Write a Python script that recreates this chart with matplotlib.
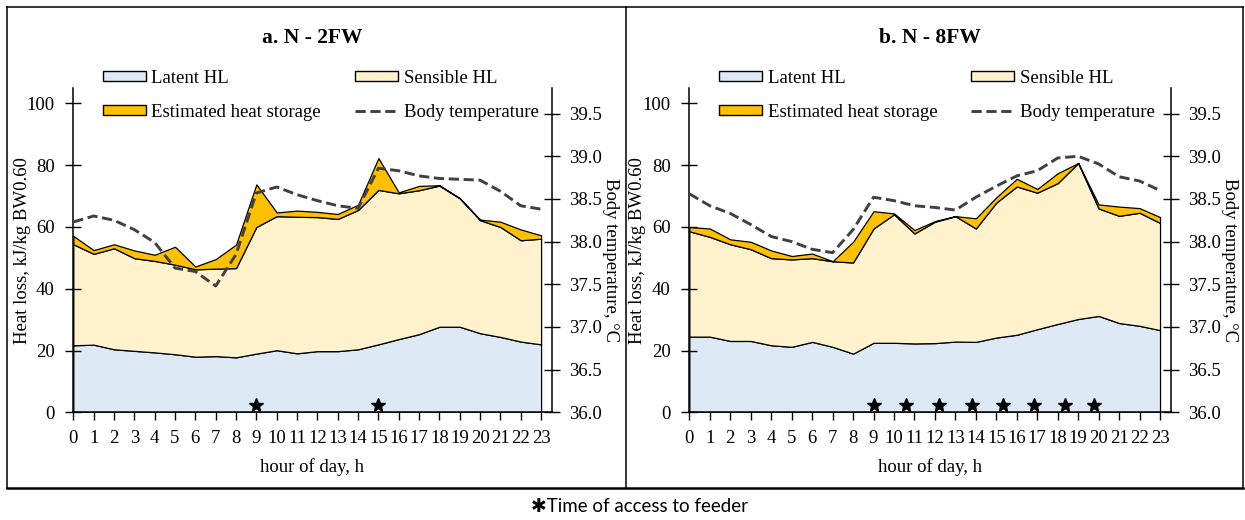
import matplotlib
matplotlib.use("Agg")
import matplotlib.pyplot as plt
import numpy as np
from matplotlib.patches import Patch
from matplotlib.lines import Line2D

plt.rcParams['font.family'] = ['Liberation Serif', 'DejaVu Serif']
plt.rcParams['font.size'] = 13.5

hours = list(range(24))
hour_labels = [str(h) for h in hours]

# panel a: N - 2FW  (kJ/kg BW0.60 per hour, body temperature in degC)
latent_a = [21.7, 21.9, 20.4, 19.9, 19.4, 18.8, 18.0, 18.2, 17.8, 19.0, 20.1, 19.1,
            19.8, 19.8, 20.4, 22.0, 23.7, 25.3, 27.7, 27.7, 25.6, 24.4, 22.9, 22.0]
sensible_a = [32.7, 29.4, 32.7, 30.0, 29.6, 29.0, 28.3, 28.3, 28.9, 41.0, 43.4, 44.2,
              43.4, 42.8, 45.1, 50.0, 47.2, 46.6, 45.7, 41.6, 36.6, 35.6, 32.8, 34.2]
storage_a = [2.7, 1.2, 1.3, 2.5, 2.0, 5.8, 0.9, 3.1, 7.6, 13.8, 1.2, 2.0,
             1.7, 1.6, 1.7, 10.3, 0.3, 1.4, 0.1, 0.0, 0.2, 1.7, 3.5, 1.1]
body_temp_a = [38.23, 38.30, 38.25, 38.14, 37.99, 37.69, 37.65, 37.48, 37.85, 38.57, 38.64, 38.55,
               38.48, 38.42, 38.39, 38.86, 38.83, 38.77, 38.74, 38.73, 38.72, 38.59, 38.42, 38.38]
feeder_a = [9, 15]

# panel b: N - 8FW
latent_b = [24.5, 24.5, 23.1, 23.1, 21.7, 21.2, 22.8, 21.2, 19.0, 22.5, 22.5, 22.3,
            22.4, 22.9, 22.8, 24.2, 25.1, 26.9, 28.6, 30.2, 31.2, 28.9, 28.0, 26.6]
sensible_b = [34.1, 32.3, 31.3, 29.7, 28.2, 28.3, 27.1, 27.7, 29.5, 37.0, 41.6, 35.6,
              39.3, 40.6, 36.7, 43.7, 48.0, 44.2, 45.6, 50.5, 34.8, 34.7, 36.6, 34.7]
storage_b = [1.4, 2.7, 1.6, 2.4, 2.5, 1.1, 1.5, 0.0, 6.7, 5.6, 0.3, 1.1,
             0.2, 0.0, 3.3, 1.7, 2.5, 1.2, 3.2, 0.0, 1.3, 3.0, 1.5, 1.9]
body_temp_b = [38.56, 38.42, 38.33, 38.20, 38.06, 38.00, 37.91, 37.87, 38.14, 38.52, 38.48, 38.42,
               38.40, 38.37, 38.52, 38.65, 38.77, 38.83, 38.98, 39.00, 38.91, 38.76, 38.71, 38.60]
feeder_b = [9.0, 10.6, 12.2, 13.8, 15.35, 16.85, 18.35, 19.75]

c_latent = '#DEE9F6'
c_sensible = '#FFF2CC'
c_storage = '#FFC000'
c_temp = '#404040'


def draw_panel(ax, title, latent, sensible, storage, temp, feeder):
    ax.stackplot(hours, latent, sensible, storage,
                 colors=[c_latent, c_sensible, c_storage],
                 edgecolor='black', linewidth=0.9)
    ax.plot(feeder, [2.3] * len(feeder), linestyle='none', marker='*',
            color='black', markersize=10, zorder=5)
    ax.set_xlim(0, 23.52)
    ax.set_ylim(0, 105)
    ax.set_yticks([0, 20, 40, 60, 80, 100])
    ax.set_xticks(hours)
    ax.set_xticklabels(hour_labels)
    ax.tick_params(axis='y', direction='inout', length=11, width=1, pad=8)
    ax.tick_params(axis='x', direction='out', length=6, width=1, pad=7)
    for s in ['top', 'right']:
        ax.spines[s].set_visible(False)
    for s in ['left', 'bottom']:
        ax.spines[s].set_linewidth(1.1)
    ax.set_xlabel('hour of day, h', labelpad=8)
    ax.set_ylabel('Heat loss, kJ/kg BW0.60', va='center')
    ax.yaxis.set_label_coords(-0.107, 0.5)
    ax.text(0.5, 1.154, title, transform=ax.transAxes, ha='center', va='center',
            fontsize=15.5, fontweight='bold')

    ax2 = ax.twinx()
    ax2.plot(hours, temp, color=c_temp, linewidth=2.1, dashes=(3.5, 1.6))
    ax2.set_ylim(36, 39.8)
    ax2.set_yticks(np.arange(36.0, 39.51, 0.5))
    ax2.yaxis.set_major_formatter(matplotlib.ticker.FormatStrFormatter('%.1f'))
    ax2.tick_params(axis='y', direction='inout', length=11, width=1, pad=7)
    for s in ['top', 'left', 'bottom']:
        ax2.spines[s].set_visible(False)
    ax2.spines['right'].set_linewidth(1.1)
    ax2.set_ylabel('Body temperature, °C', rotation=270, va='center')
    ax2.yaxis.set_label_coords(1.122, 0.47)

    handles = [
        Patch(facecolor=c_latent, edgecolor='black', linewidth=1),
        Patch(facecolor=c_storage, edgecolor='black', linewidth=1),
        Patch(facecolor=c_sensible, edgecolor='black', linewidth=1),
        Line2D([0], [0], color=c_temp, linewidth=2.1, dashes=(3.5, 1.6)),
    ]
    labels = ['Latent HL', 'Estimated heat storage', 'Sensible HL', 'Body temperature']
    ax.legend(handles, labels, ncol=2, loc='upper left', bbox_to_anchor=(0.0615, 1.056),
              frameon=False, borderpad=0, borderaxespad=0, handlelength=2.3,
              handleheight=0.45, handletextpad=0.3, columnspacing=1.8,
              labelspacing=0.9)


fig = plt.figure(figsize=(12.45, 5.2), dpi=100)
ax_a = fig.add_axes([0.0589, 0.2071, 0.3842, 0.6237])
ax_b = fig.add_axes([0.5537, 0.2071, 0.3866, 0.6237])

draw_panel(ax_a, 'a. N - 2FW', latent_a, sensible_a, storage_a, body_temp_a, feeder_a)
draw_panel(ax_b, 'b. N - 8FW', latent_b, sensible_b, storage_b, body_temp_b, feeder_b)

# outer frame around both panels
W, H = 1245, 520
def fx(px):
    return px / W
def fy(py):
    return 1 - py / H
frame_kw = dict(color='black', linewidth=1.1, transform=fig.transFigure)
fig.add_artist(Line2D([fx(7), fx(1243)], [fy(7), fy(7)], **frame_kw))
fig.add_artist(Line2D([fx(7), fx(7)], [fy(7), fy(488)], **frame_kw))
fig.add_artist(Line2D([fx(1243), fx(1243)], [fy(7), fy(488)], **frame_kw))
fig.add_artist(Line2D([fx(625.5), fx(625.5)], [fy(7), fy(488)], **frame_kw))
fig.add_artist(Line2D([fx(7), fx(1243)], [fy(488), fy(488)], color='black',
                      linewidth=1.8, transform=fig.transFigure))

fig.text(fx(640), fy(507), '\u2731Time of access to feeder', ha='center', va='center',
         fontsize=13.5, family=['Lato', 'DejaVu Sans'])

fig.savefig('out.png', dpi=100)
